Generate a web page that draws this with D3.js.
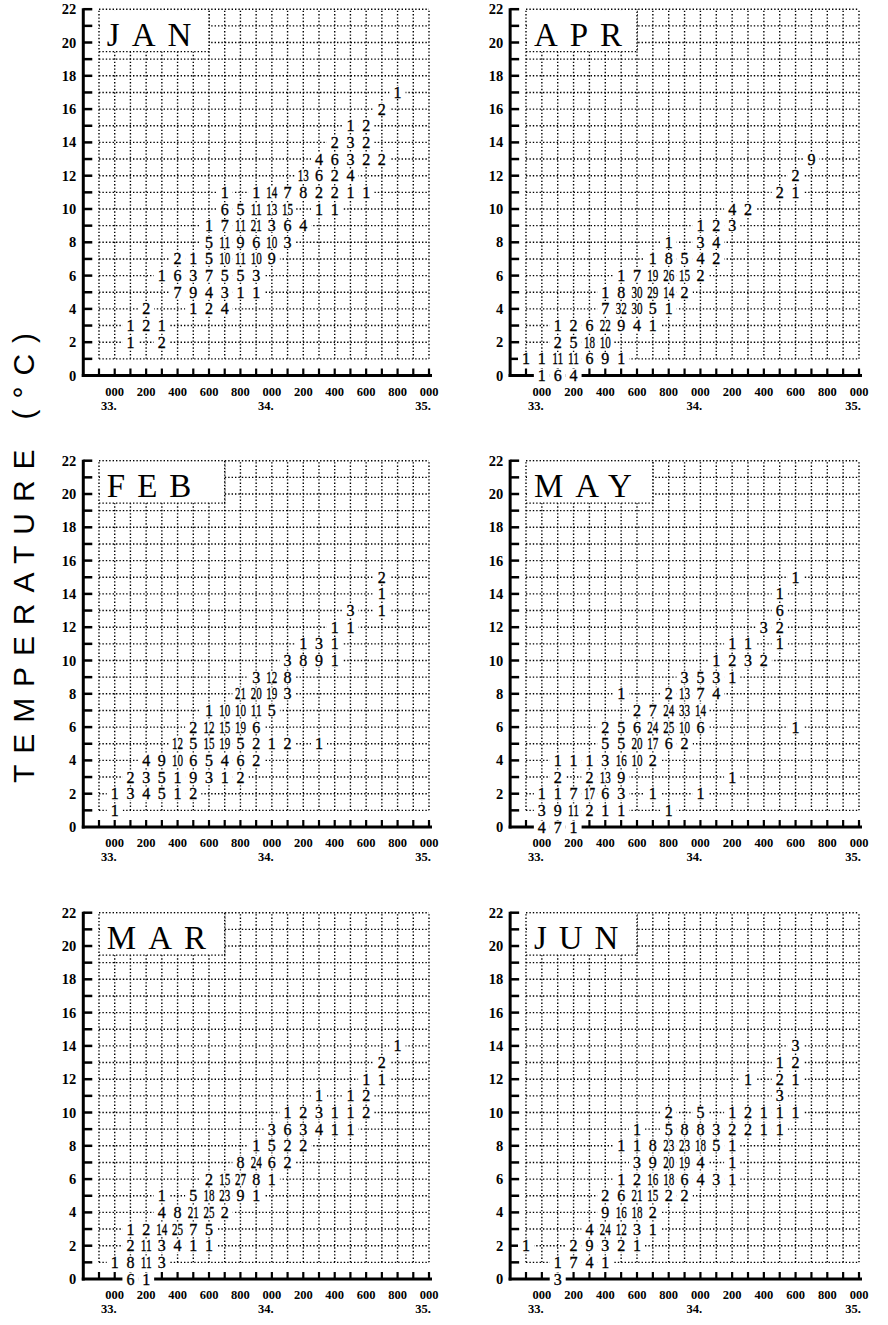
<!DOCTYPE html>
<html>
<head>
<meta charset="utf-8">
<script src="https://cdn.jsdelivr.net/npm/d3@7"></script>
<style>
body{margin:0;background:#fff}
svg{display:block}
</style>
</head>
<body>
<div id="chart"></div>
<script>
// each row: [temperature, salinity of first cell, counts...]  null = empty cell
var jan = [
  [17, 34.8, [1]],
  [16, 34.7, [2]],
  [15, 34.5, [1,2]],
  [14, 34.4, [2,3,2]],
  [13, 34.3, [4,6,3,2,2]],
  [12, 34.2, [13,6,2,4]],
  [11, 33.7, [1,null,1,14,7,8,2,2,1,1]],
  [10, 33.7, [6,5,11,13,15,null,1,1]],
  [9, 33.6, [1,7,11,21,3,6,4]],
  [8, 33.6, [5,11,9,6,10,3]],
  [7, 33.4, [2,1,5,10,11,10,9]],
  [6, 33.3, [1,6,3,7,5,5,3]],
  [5, 33.4, [7,9,4,3,1,1]],
  [4, 33.2, [2,null,null,1,2,4]],
  [3, 33.1, [1,2,1]],
  [2, 33.1, [1,null,2]]
];
var feb = [
  [15, 34.7, [2]],
  [14, 34.7, [1]],
  [13, 34.5, [3,null,1]],
  [12, 34.4, [1,1]],
  [11, 34.2, [1,3,1]],
  [10, 34.1, [3,8,9,1]],
  [9, 33.9, [3,12,8]],
  [8, 33.8, [21,20,19,3]],
  [7, 33.6, [1,10,10,11,5]],
  [6, 33.5, [2,12,15,19,6]],
  [5, 33.4, [12,5,15,19,5,2,1,2,null,1]],
  [4, 33.2, [4,9,10,6,5,4,6,2]],
  [3, 33.1, [2,3,5,1,9,3,1,2]],
  [2, 33.0, [1,3,4,5,1,2]],
  [1, 33.0, [1]]
];
var mar = [
  [14, 34.8, [1]],
  [13, 34.7, [2]],
  [12, 34.6, [1,1]],
  [11, 34.3, [1,null,1,2]],
  [10, 34.1, [1,2,3,1,1,2]],
  [9, 34.0, [3,6,3,4,1,1]],
  [8, 33.9, [1,5,2,2]],
  [7, 33.8, [8,24,6,2]],
  [6, 33.6, [2,15,27,8,1]],
  [5, 33.3, [1,null,5,18,23,9,1]],
  [4, 33.3, [4,8,21,25,2]],
  [3, 33.1, [1,2,14,25,7,5]],
  [2, 33.1, [2,11,3,4,1,1]],
  [1, 33.0, [1,8,11,3]],
  [0, 33.1, [6,1]]
];
var apr = [
  [13, 34.7, [9]],
  [12, 34.6, [2]],
  [11, 34.5, [2,1]],
  [10, 34.2, [4,2]],
  [9, 34.0, [1,2,3]],
  [8, 33.8, [1,null,3,4]],
  [7, 33.7, [1,8,5,4,2]],
  [6, 33.5, [1,7,19,26,15,2]],
  [5, 33.4, [1,8,30,29,14,2]],
  [4, 33.4, [7,32,30,5,1]],
  [3, 33.1, [1,2,6,22,9,4,1]],
  [2, 33.1, [2,5,18,10]],
  [1, 32.9, [1,1,11,11,6,9,1]],
  [0, 33.0, [1,6,4]]
];
var may = [
  [15, 34.6, [1]],
  [14, 34.5, [1]],
  [13, 34.5, [6]],
  [12, 34.4, [3,2]],
  [11, 34.2, [1,1,null,1]],
  [10, 34.1, [1,2,3,2]],
  [9, 33.9, [3,5,3,1]],
  [8, 33.5, [1,null,null,2,13,7,4]],
  [7, 33.6, [2,7,24,33,14]],
  [6, 33.4, [2,5,6,24,25,10,6,null,null,null,null,null,1]],
  [5, 33.4, [5,5,20,17,6,2]],
  [4, 33.1, [1,1,1,3,16,10,2]],
  [3, 33.1, [2,null,2,13,9,null,null,null,null,null,null,1]],
  [2, 33.0, [1,1,7,17,6,3,null,1,null,null,1]],
  [1, 33.0, [3,9,11,2,1,1,null,null,1]],
  [0, 33.0, [4,7,1]]
];
var jun = [
  [14, 34.6, [3]],
  [13, 34.5, [1,2]],
  [12, 34.3, [1,null,2,1]],
  [11, 34.5, [3]],
  [10, 33.8, [2,null,5,null,1,2,1,1,1]],
  [9, 33.6, [1,null,5,8,8,3,2,2,1,1]],
  [8, 33.5, [1,1,8,23,23,18,5,1]],
  [7, 33.6, [3,9,20,19,4,null,1]],
  [6, 33.5, [1,2,16,18,6,4,3,1]],
  [5, 33.4, [2,6,21,15,2,2]],
  [4, 33.4, [9,16,18,2]],
  [3, 33.3, [4,24,12,3,1]],
  [2, 32.9, [1,null,null,2,9,3,2,1]],
  [1, 33.1, [1,7,4,1]],
  [0, 33.1, [3]]
];

var months = ['JAN','APR','FEB','MAY','MAR','JUN'];
var monthData = [jan, apr, feb, may, mar, jun];
var titleEnd = [33.6, 33.6, 33.7, 33.7, 33.7, 33.6];
var tempTicks = [0,2,4,6,8,10,12,14,16,18,20,22];
var salTicks = [33.0,33.2,33.4,33.6,33.8,34.0,34.2,34.4,34.6,34.8,35.0];
var salLabels = ['000','200','400','600','800','000','200','400','600','800','000'];
var salUnits = [33, 34, 35];
var salUnitLabels = ['33.','34.','35.'];

var colX = [[99, 429], [526, 859]];
var rowY = [375.5, 827, 1279];
var unit = 16.65;
var serif = "'Liberation Serif','DejaVu Serif',serif";
var dots = '1.4,2';

var svg = d3.select('#chart').append('svg')
    .attr('width', 888).attr('height', 1325)
    .style('background', '#fff');

svg.append('text')
    .attr('transform', 'translate(34,558) rotate(-90)')
    .attr('text-anchor', 'middle')
    .attr('font-family', "'Liberation Sans','DejaVu Sans',sans-serif")
    .attr('font-size', 30)
    .attr('textLength', 450)
    .attr('lengthAdjust', 'spacing')
    .text('TEMPERATURE (°C)');

function cells(rows){
  var out = [];
  rows.forEach(function(r){
    r[2].forEach(function(v, i){
      if (v != null) out.push({t: r[0], s: +(r[1] + 0.1*i).toFixed(1), v: v});
    });
  });
  return out;
}

months.forEach(function(name, k){
  var col = k % 2, row = Math.floor(k / 2);
  var x = d3.scaleLinear().domain([32.9, 35.0]).range(colX[col]);
  var y = d3.scaleLinear().domain([0, 22]).range([rowY[row], rowY[row] - 22*unit]);
  var g = svg.append('g');
  var axX = x(32.8);

  var gridSal = d3.range(0, 22).map(function(i){ return +(32.9 + 0.1*i).toFixed(1); });
  var gridT = d3.range(1, 23);

  g.selectAll('.gv').data(gridSal).enter().append('line')
    .attr('x1', function(d){ return x(d); }).attr('x2', function(d){ return x(d); })
    .attr('y1', y(1)).attr('y2', y(22))
    .attr('stroke', '#000').attr('stroke-width', 1.4)
    .attr('stroke-dasharray', dots);
  g.selectAll('.gh').data(gridT).enter().append('line')
    .attr('y1', function(d){ return y(d); }).attr('y2', function(d){ return y(d); })
    .attr('x1', x(32.9)).attr('x2', x(35.0))
    .attr('stroke', '#000').attr('stroke-width', 1.4)
    .attr('stroke-dasharray', dots);

  // title box
  var bx1 = x(titleEnd[k]), by1 = y(19.45);
  g.append('rect')
    .attr('x', x(32.9) + 1).attr('y', y(22) + 1)
    .attr('width', bx1 - x(32.9) - 1).attr('height', by1 - y(22) - 1)
    .attr('fill', '#fff');
  g.append('path')
    .attr('d', 'M' + x(32.9) + ',' + by1 + 'H' + bx1 + 'V' + y(22))
    .attr('fill', 'none').attr('stroke', '#000').attr('stroke-width', 1.4)
    .attr('stroke-dasharray', dots);
  g.append('text')
    .attr('x', x(32.95)).attr('y', y(19.8))
    .attr('font-family', serif).attr('font-size', 33)
    .attr('letter-spacing', 12)
    .text(name);

  // axes
  g.append('line')
    .attr('x1', axX).attr('x2', axX).attr('y1', y(0) + 1.5).attr('y2', y(22) - 1)
    .attr('stroke', '#000').attr('stroke-width', 3);
  g.append('line')
    .attr('x1', axX - 1.5).attr('x2', x(35.0) + 3).attr('y1', y(0)).attr('y2', y(0))
    .attr('stroke', '#000').attr('stroke-width', 3);
  g.selectAll('.ty').data(gridT).enter().append('line')
    .attr('x1', axX).attr('x2', axX + 9)
    .attr('y1', function(d){ return y(d); }).attr('y2', function(d){ return y(d); })
    .attr('stroke', '#000').attr('stroke-width', 2.5);
  g.selectAll('.tx').data(gridSal).enter().append('line')
    .attr('x1', function(d){ return x(d); }).attr('x2', function(d){ return x(d); })
    .attr('y1', y(0)).attr('y2', y(0) - 7)
    .attr('stroke', '#000').attr('stroke-width', 2.2);

  g.selectAll('.ly').data(tempTicks).enter().append('text')
    .attr('x', axX - 7).attr('y', function(d){ return y(d) + 5; })
    .attr('text-anchor', 'end')
    .attr('font-family', serif).attr('font-weight', 'bold').attr('font-size', 14.5)
    .text(function(d){ return d; });
  g.selectAll('.lx').data(salTicks).enter().append('text')
    .attr('x', function(d){ return x(d); }).attr('y', y(0) + 20)
    .attr('text-anchor', 'middle')
    .attr('font-family', serif).attr('font-weight', 'bold').attr('font-size', 12.5)
    .text(function(d, i){ return salLabels[i]; });
  g.selectAll('.lu').data(salUnits).enter().append('text')
    .attr('x', function(d){ return x(d) - 6; }).attr('y', y(0) + 34)
    .attr('text-anchor', 'middle')
    .attr('font-family', serif).attr('font-weight', 'bold').attr('font-size', 12.5)
    .text(function(d, i){ return salUnitLabels[i]; });

  // counts
  var c = g.selectAll('.cell').data(cells(monthData[k])).enter().append('g')
    .attr('transform', function(d){ return 'translate(' + x(d.s) + ',' + y(d.t) + ')'; });
  c.append('rect')
    .attr('x', -8).attr('y', -6.5).attr('width', 16).attr('height', 13)
    .attr('fill', '#fff');
  c.append('text')
    .attr('text-anchor', 'middle').attr('y', 5.5)
    .attr('font-family', serif).attr('font-size', 16)
    .attr('stroke', '#000').attr('stroke-width', 0.35)
    .attr('textLength', function(d){ return d.v > 9 ? 11 : null; })
    .attr('lengthAdjust', 'spacingAndGlyphs')
    .text(function(d){ return d.v; });
});
</script>
</body>
</html>
